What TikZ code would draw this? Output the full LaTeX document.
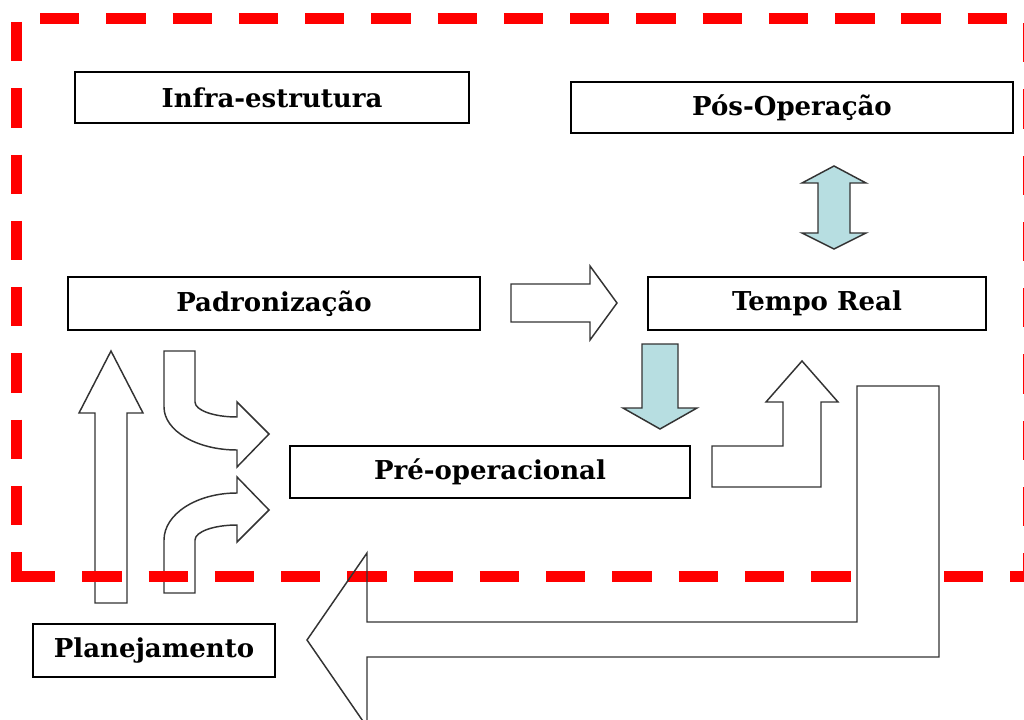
\documentclass[tikz,border=0pt]{standalone}
\usepackage{fontspec}
\setmainfont{DejaVu Serif}
\definecolor{arrowblue}{RGB}{183,222,225}
\definecolor{frame}{RGB}{255,0,0}
\tikzset{
  box/.style={draw=black, line width=1pt, fill=white, inner sep=0pt,
    font=\bfseries\fontsize{19.5}{21}\selectfont},
  blockarrow/.style={draw=black!80, line width=1.1pt, line join=miter, fill=white},
  bluearrow/.style={blockarrow, fill=arrowblue},
  hollowarrow/.style={draw=black!80, line width=1.1pt, line join=miter},
  reddash/.style={draw=frame, line width=8.25pt, dash pattern=on 29.5pt off 20.2pt}
}
\begin{document}
\begin{tikzpicture}[x=0.75pt, y=-0.75pt]
\clip (0,0) rectangle (1024,720);
\fill[white] (0,0) rectangle (1024,720);

% boxes
\node[box, minimum width=295.5pt, minimum height=38.25pt] (infra) at (272,97.5) {Infra-estrutura};
\node[box, minimum width=331.5pt, minimum height=38.25pt] (pos) at (792,107.5) {Pós-Operação};
\node[box, minimum width=309pt, minimum height=39.75pt] (padr) at (274,303.5) {Padronização};
\node[box, minimum width=253.5pt, minimum height=39.75pt] (tempo) at (817,303.5) {Tempo Real};
\node[box, minimum width=300pt, minimum height=39pt] (pre) at (490,472) {Pré-operacional};
\node[box, minimum width=181.5pt, minimum height=39.75pt] (plan) at (154,650.5) {Planejamento};

% left arrows (under the red frame)
\draw[blockarrow] (95,603) -- (95,413) -- (79,413) -- (111,351) -- (143,413) -- (127,413) -- (127,603) -- cycle;
\draw[blockarrow] (164,351) -- (195,351) -- (195,402) .. controls (195,410.3) and (213.8,417) .. (237,417)
  -- (237,402) -- (269,434) -- (237,467) -- (237,450) .. controls (196.7,450) and (164,430.7) .. (164,407) -- cycle;
\draw[blockarrow] (164,593) -- (164,540) .. controls (164,514) and (196.7,493) .. (237,493)
  -- (237,477) -- (269,510) -- (237,542) -- (237,525) .. controls (213.8,525) and (195,531.7) .. (195,540) -- (195,593) -- cycle;

% other arrows
\draw[blockarrow] (511,284) -- (590,284) -- (590,266) -- (617,303) -- (590,340) -- (590,322) -- (511,322) -- cycle;
\draw[bluearrow] (642,344) -- (678,344) -- (678,408) -- (697,408) -- (660,429) -- (623,408) -- (642,408) -- cycle;
\draw[bluearrow] (834,166) -- (866,183) -- (850,183) -- (850,233) -- (866,233) -- (834,249) -- (802,233) -- (818,233) -- (818,183) -- (802,183) -- cycle;
\draw[blockarrow] (712,487) -- (821,487) -- (821,402) -- (838,402) -- (802,361) -- (766,402) -- (783,402) -- (783,446) -- (712,446) -- cycle;

% red dashed frame
\draw[reddash] (40,18.5) -- (1040,18.5);
\draw[reddash] (16,22) -- (16,582);
\draw[reddash] (16,576.5) -- (857,576.5);
\draw[reddash] (944,576.5) -- (1040,576.5);
\draw[reddash] (1028.5,23) -- (1028.5,582);

% big return arrow (outline over the frame)
\draw[hollowarrow] (857,386) -- (939,386) -- (939,657) -- (367,657) -- (367,727) -- (307,640) -- (367,553) -- (367,622) -- (857,622) -- cycle;
\end{tikzpicture}
\end{document}
